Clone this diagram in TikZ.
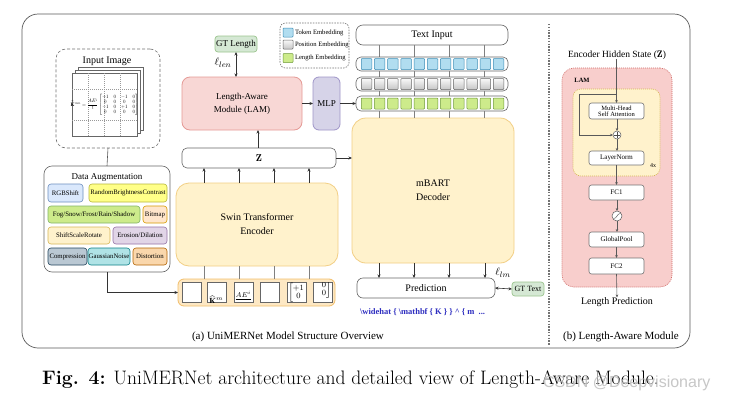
\documentclass[tikz,border=0pt]{standalone}
\usepackage{amsmath}
\usepackage{graphicx}
\usepackage{fontspec}
\usetikzlibrary{arrows.meta,calc}
\newfontfamily\tms{Liberation Serif}
\newfontfamily\lsans{Liberation Sans}
\newcommand\myfs[1]{\fontsize{#1}{#1}\selectfont}
\definecolor{cY}{HTML}{FFF2CC}\definecolor{cYb}{HTML}{F2CF85}
\definecolor{cPk}{HTML}{F8D7D5}\definecolor{cPkb}{HTML}{E59A96}
\definecolor{cPu}{HTML}{D6D3E8}\definecolor{cPub}{HTML}{9F95C8}
\definecolor{cG}{HTML}{D5E8D4}\definecolor{cGb}{HTML}{9CC58F}
\definecolor{cOr}{HTML}{FDE8C4}\definecolor{cOrb}{HTML}{F2BE6A}
\definecolor{cTok}{HTML}{B1DDF0}\definecolor{cTokb}{HTML}{3C8DB5}
\definecolor{cLen}{HTML}{CDEB8B}\definecolor{cLenb}{HTML}{6E9A3A}
\definecolor{aRGB}{HTML}{DAE8FC}\definecolor{aRGBb}{HTML}{6C8EBF}
\definecolor{aRBC}{HTML}{FFFF88}\definecolor{aRBCb}{HTML}{B8B83A}
\definecolor{aFog}{HTML}{CDEB8B}\definecolor{aFogb}{HTML}{82B366}
\definecolor{aBit}{HTML}{FFE6CC}\definecolor{aBitb}{HTML}{D79B00}
\definecolor{aSSR}{HTML}{FFF2CC}\definecolor{aSSRb}{HTML}{D6B656}
\definecolor{aEro}{HTML}{E1D5E7}\definecolor{aErob}{HTML}{9673A6}
\definecolor{aCmp}{HTML}{BAC8D3}\definecolor{aCmpb}{HTML}{23445D}
\definecolor{aGau}{HTML}{B0E3E6}\definecolor{aGaub}{HTML}{0E8088}
\definecolor{aDis}{HTML}{FAD7AC}\definecolor{aDisb}{HTML}{B46504}
\definecolor{cLAM}{HTML}{F8CECC}\definecolor{cLAMb}{HTML}{D06A66}
\definecolor{cBlue}{HTML}{2E2EC0}
\begin{document}
\begin{tikzpicture}[x=1pt,y=-1pt,
 base/.style={inner sep=0pt, outer sep=0pt, align=center, font=\tms\myfs{10}},
 wh/.style 2 args={minimum width=#1pt, minimum height=#2pt},
 arr/.style={draw=black!80, line width=0.6pt, -{Stealth[length=3.5pt,width=3pt]}},
 darr/.style={draw=black!80, line width=0.6pt, {Stealth[length=3.5pt,width=3pt]}-{Stealth[length=3.5pt,width=3pt]}},
 gline/.style={draw=black!50, line width=0.8pt},
 bigyel/.style={base, draw=cYb, fill=cY, line width=0.8pt, rounded corners=13pt},
 wbox/.style={base, draw=black!60, fill=white, line width=0.6pt},
 aug/.style 2 args={base, draw=#2, fill=#1, line width=0.6pt, rounded corners=3pt, font=\tms\myfs{6.8}},
 sq/.style 2 args={base, draw=#2, fill=#1, line width=0.5pt, wh={10.5}{11}, rounded corners=0.8pt},
 lambox/.style={base, draw=black!55, fill=white, line width=0.6pt, rounded corners=2.5pt, wh={55}{15}, font=\tms\myfs{7}},
 page/.style={base, draw=black!60, fill=white, line width=0.6pt, wh={65}{63}},
 patch/.style={base, draw=black!60, fill=white, line width=0.6pt, wh={19}{20}},
 rline/.style={draw=black!65, line width=0.6pt},
 rarr/.style={rline, -{Stealth[length=3pt,width=2.6pt]}}
]
\useasboundingbox[fill=white] (0,0) rectangle (742,402);

% outer frame and separator
\draw[line width=0.7pt, draw=black!65, rounded corners=16pt] (22,14) rectangle (690,348);
\draw[draw=black!55, line width=1.3pt, dash pattern=on 1.4pt off 1.4pt] (549,24) -- (549,345);

% ---------- Input image ----------
\node[base, draw=black!55, line width=0.6pt, dash pattern=on 3pt off 2pt, rounded corners=10pt, wh={104}{99}] (inimg) at (108,98.5) {};
\node[base] (intitle) at (107,61) {Input Image};
\node[page] (pg3) at (110.5,98.5) {};
\node[page] (pg2) at (107.5,101.5) {};
\node[page] (pg1) at (104.5,104.5) {};
\draw[draw=black!40, line width=0.4pt, dash pattern=on 1pt off 1pt] (88,73) -- (88,136) (104,73) -- (104,136) (120,73) -- (120,136) (72,89) -- (137,89) (72,120) -- (137,120);
\node[base, font=\myfs{10}] (formula) at (104.5,105) {\scalebox{0.5}{$\widehat{\mathbf{K}}^{mn}=\dfrac{AE^{i}}{t}\begin{bmatrix}+1&0&-1&0\\0&0&0&0\\-1&0&+1&0\\0&0&0&0\end{bmatrix}$}};

% ---------- Data augmentation ----------
\node[base, draw=black!60, fill=white, line width=0.6pt, rounded corners=8pt, wh={126}{106}] (da) at (107,219) {};
\node[base, font=\tms\myfs{9}] (datitle) at (107,177) {Data Augmentation};
\node[aug={aRGB}{aRGBb}, wh={35}{18}] (rgb) at (65.5,193) {RGBShift};
\node[aug={aRBC}{aRBCb}, wh={78}{18}] (rbc) at (128,193) {RandomBrightnessContrast};
\node[aug={aFog}{aFogb}, wh={92}{17}] (fog) at (94,214.5) {Fog/Snow/Frost/Rain/Shadow};
\node[aug={aBit}{aBitb}, wh={24}{17}] (bit) at (155,214.5) {Bitmap};
\node[aug={aSSR}{aSSRb}, wh={62}{17}] (ssr) at (79,235.5) {ShiftScaleRotate};
\node[aug={aEro}{aErob}, wh={54}{17}] (ero) at (140,235.5) {Erosion/Dilation};
\node[aug={aCmp}{aCmpb}, wh={39}{17}] (cmp) at (67.5,256.5) {Compression};
\node[aug={aGau}{aGaub}, wh={42}{17}] (gau) at (109,256.5) {GaussianNoise};
\node[aug={aDis}{aDisb}, wh={34}{17}] (dis) at (150,256.5) {Distortion};
\draw[rline] (inimg.south) -- (da.north);

% ---------- Patch strip ----------
\node[base, draw=cOrb, fill=cOr, line width=0.8pt, rounded corners=6pt, wh={157}{27}] (strip) at (256.5,292.5) {};
\node[patch] (p1) at (191.5,292) {};
\node[patch] (p2) at (217,292) {};
\node[patch] (p3) at (243.5,292) {};
\node[patch] (p4) at (269.5,292) {};
\node[patch] (p5) at (297,292) {};
\node[patch] (p6) at (322.5,292) {};
\begin{scope}
\clip (p2.south west) rectangle (p2.north east);
\node[base, anchor=south west, font=\myfs{9}] (p2t) at ($(p2.south west)+(1.5,2.5)$) {$\widehat{\mathbf{K}}^{m}$};
\end{scope}
\begin{scope}
\clip (p3.south west) rectangle (p3.north east);
\node[base, anchor=south west, font=\myfs{7.5}] (p3t) at ($(p3.south west)+(1.5,-2.5)$) {$\underline{AE^{i}}$};
\end{scope}
\begin{scope}
\clip (p5.south west) rectangle (p5.north east);
\node[base, anchor=north west, font=\myfs{8}] (p5t) at ($(p5.north west)+(1,1)$) {$\left[\begin{matrix}+1\\0\end{matrix}\right.$};
\end{scope}
\begin{scope}
\clip (p6.south west) rectangle (p6.north east);
\node[base, anchor=north east, font=\myfs{8}] (p6t) at ($(p6.north east)+(-1,-8)$) {$\left.\begin{matrix}0\\0\\0\end{matrix}\right]$};
\end{scope}
\draw[arr] (da.south) |- (strip.west);

% ---------- Encoder, Z, LAM, MLP ----------
\node[bigyel, wh={162}{83}] (enc) at (257,224.5) {Swin Transformer\\[4pt]Encoder};
\node[wbox, rounded corners=5pt, wh={154}{20}] (z) at (259,158) {$\mathbf{Z}$};
\foreach \xx in {204,239,274,309}{
  \draw[gline] (\xx,0 |- strip.north) -- (\xx,0 |- enc.south);
  \draw[arr] (\xx,0 |- enc.north) -- (\xx,0 |- z.south);
}
\node[base, draw=cPkb, fill=cPk, line width=0.8pt, rounded corners=8pt, wh={120}{53}, font=\tms\myfs{9}] (lam) at (242,103.5) {Length-Aware\\[4pt]Module (LAM)};
\node[base, draw=cPub, fill=cPu, line width=0.8pt, rounded corners=6pt, wh={27}{53}, font=\tms\myfs{9}] (mlp) at (326.5,103.5) {MLP};
\node[base, draw=cGb, fill=cG, line width=0.7pt, rounded corners=3pt, wh={42}{16}, font=\tms\myfs{9}] (gtlen) at (236,44) {GT Length};
\draw[arr] (258,0 |- z.north) -- (258,0 |- lam.south);
\draw[darr] (gtlen.south) -- (gtlen.south |- lam.north);
\node[base, font=\myfs{11}] (lenlab) at (223,63) {$\ell_{len}$};
\draw[arr] (lam.east) -- (mlp.west);

% ---------- Legend ----------
\node[base, draw=black!55, line width=0.6pt, dash pattern=on 1.5pt off 1.2pt, rounded corners=5pt, wh={69}{45}] (legend) at (314.5,45.5) {};
\node[sq={cTok}{cTokb}, wh={10}{9}] (lg1) at (288,32.5) {};
\node[sq={white}{black!60}, top color=gray!5, bottom color=gray!45, wh={10}{9}] (lg2) at (288,44.5) {};
\node[sq={cLen}{cLenb}, wh={10}{9}] (lg3) at (288,58) {};
\node[base, anchor=west, font=\tms\myfs{6.6}] (lt1) at (295,32.5) {Token Embedding};
\node[base, anchor=west, font=\tms\myfs{6.6}] (lt2) at (295,44.5) {Position Embedding};
\node[base, anchor=west, font=\tms\myfs{6.6}] (lt3) at (295,58) {Length Embedding};

% ---------- Text input & embeddings ----------
\node[wbox, rounded corners=7pt, wh={152}{20}] (tin) at (432,35) {Text Input};
\node[bigyel, wh={162}{145}, rounded corners=14pt] (dec) at (433,190.5) {mBART\\[4pt]Decoder};
\foreach \xx in {379,414,449,484}{
  \draw[gline] (\xx,0 |- tin.south) -- (\xx,0 |- dec.north);
}
\node[wbox, rounded corners=5pt, wh={152}{14}] (trow) at (432,64) {};
\node[wbox, rounded corners=5pt, wh={152}{14}] (prow) at (432,84) {};
\node[wbox, rounded corners=5pt, wh={152}{15}] (lrow) at (432,103.5) {};
\foreach \i in {0,...,10}{
  \node[sq={cTok}{cTokb}] (tk\i) at ({366.5+13.2*\i},64) {};
  \node[sq={white}{black!60}, top color=gray!5, bottom color=gray!45] (ps\i) at ({366.5+13.2*\i},84) {};
  \node[sq={cLen}{cLenb}] (le\i) at ({366.5+13.2*\i},103.5) {};
}
\draw[arr] (mlp.east) -- (lrow.west);
\draw[arr] (z.east) -- (z.east -| dec.west);

% ---------- Prediction ----------
\node[wbox, rounded corners=6pt, wh={138}{20}] (pred) at (426,288) {Prediction};
\node[base, draw=cGb, fill=cG, line width=0.7pt, rounded corners=3pt, wh={32}{14}, font=\tms\myfs{8}] (gttext) at (528,289) {GT Text};
\foreach \xx in {379,414,449,485}{
  \draw[arr] (\xx,0 |- dec.south) -- (\xx,0 |- pred.north);
}
\draw[darr] (pred.east) -- (gttext.west);
\node[base, font=\myfs{11}] (lmlab) at (503,273) {$\ell_{lm}$};
\node[base, anchor=west, text=cBlue, font=\tms\bfseries\myfs{8.5}] (latex) at (360,312) {\textbackslash widehat \{ \textbackslash mathbf \{ K \} \} \^{} \{ m \ ...};

% ---------- Captions ----------
\node[base, font=\tms\myfs{11}] (capa) at (288,337) {(a) UniMERNet Model Structure Overview};
\node[base, font=\tms\myfs{11}] (capb) at (621,337) {(b) Length-Aware Module};

% ---------- Right panel: LAM ----------
\node[base, font=\tms\myfs{9.5}] (ehs) at (617,55) {Encoder Hidden State ($\mathbf{Z}$)};
\node[base, draw=cLAMb, fill=cLAM, line width=0.6pt, dash pattern=on 1pt off 1pt, rounded corners=12pt, wh={110}{219}] (lamo) at (617,177.5) {};
\node[base, font=\tms\bfseries\myfs{6.5}] (lamlab) at (582,80) {LAM};
\node[base, draw=aSSRb, fill=cY, line width=0.6pt, dash pattern=on 1pt off 1pt, rounded corners=8pt, wh={87}{87}] (inner) at (616.5,132.5) {};
\node[lambox, wh={55}{16}, font=\tms\myfs{6.5}] (mhsa) at (616.5,111) {Multi-Head\\[-0.5pt]Self Attention};
\node[base, circle, draw=black!65, fill=white, line width=0.5pt, minimum size=8pt,
  path picture={\draw[black!70, line width=0.4pt] ([xshift=-3pt]path picture bounding box.center) -- ([xshift=3pt]path picture bounding box.center) ([yshift=-3pt]path picture bounding box.center) -- ([yshift=3pt]path picture bounding box.center);}] (plus) at (617,135) {};
\node[lambox, wh={55}{14}] (ln) at (616.5,158) {LayerNorm};
\node[base, font=\tms\myfs{6}] (fourx) at (653,166) {4x};
\node[lambox] (fc1) at (616.5,192.5) {FC1};
\node[base, circle, draw=black!65, fill=white, line width=0.5pt, minimum size=10pt,
  path picture={\draw[black!75, line width=0.4pt] ([shift={(-3.5pt,-2.5pt)}]path picture bounding box.center) .. controls ([shift={(0pt,-3pt)}]path picture bounding box.center) and ([shift={(0pt,3pt)}]path picture bounding box.center) .. ([shift={(3.5pt,2.5pt)}]path picture bounding box.center);}] (act) at (617,216) {};
\node[lambox] (gp) at (616.5,239.5) {GlobalPool};
\node[lambox, wh={55}{16}] (fc2) at (616.5,266) {FC2};
\node[base, font=\tms\myfs{10}] (lp) at (617,302) {Length Prediction};
\coordinate (rs) at (617,94);
\coordinate (rl) at (579,94);
\draw[rarr] (ehs.south -| mhsa.north) -- (mhsa.north);
\draw[rarr] (rs) -- (rl) |- (plus.west);
\draw[rarr] (mhsa.south -| plus.north) -- (plus.north);
\draw[rarr] (plus.south) -- (plus.south |- ln.north);
\draw[rarr] (ln.south) -- (fc1.north);
\draw[rarr] (fc1.south -| act.north) -- (act.north);
\draw[rarr] (act.south) -- (act.south |- gp.north);
\draw[rarr] (gp.south) -- (fc2.north);
\draw[rarr] (fc2.south) -- (lp.north);

% ---------- Figure caption ----------
\node[base, anchor=west, font=\myfs{19.5}] (figcap) at (42,380) {\textbf{Fig. 4:} UniMERNet architecture and detailed view of Length-Aware Module.};
\node[base, anchor=west, text=gray!55, opacity=0.8, font=\lsans\myfs{16}] (wm) at (543,383) {CSDN @Deepvisionary};
\end{tikzpicture}
\end{document}
